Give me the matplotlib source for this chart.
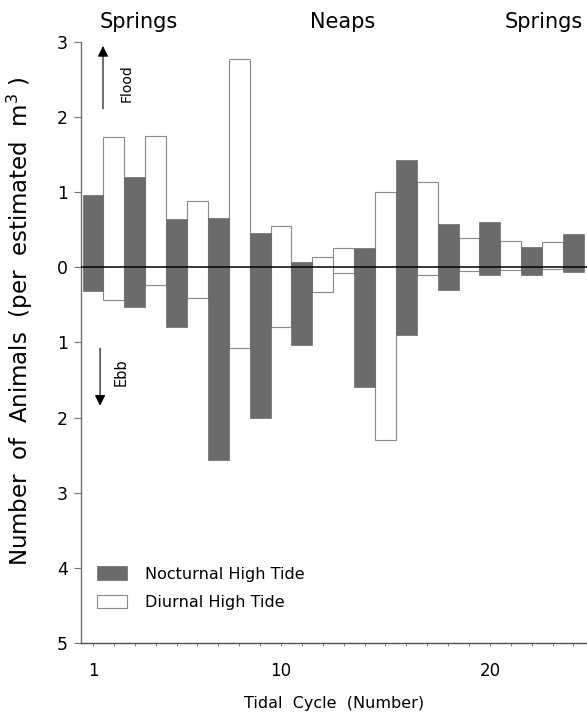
import matplotlib.pyplot as plt
import numpy as np
from matplotlib.ticker import FuncFormatter

# tidal cycle number, N = nocturnal high tide, D = diurnal high tide
cycle = list(range(1, 25))
tide = ["N", "D", "N", "D", "N", "D", "N", "D", "N", "D", "N", "D",
        "D", "N", "D", "N", "D", "N", "D", "N", "D", "N", "D", "N"]
# animals per estimated m3 moving on the flood (up) and ebb (down)
flood = [0.96, 1.73, 1.20, 1.75, 0.64, 0.88, 0.66, 2.77, 0.45, 0.55, 0.07, 0.13,
         0.25, 0.26, 1.00, 1.43, 1.13, 0.58, 0.39, 0.60, 0.35, 0.27, 0.34, 0.44]
ebb = [0.32, 0.44, 0.53, 0.24, 0.79, 0.41, 2.56, 1.08, 2.01, 0.80, 1.03, 0.33,
       0.08, 1.60, 2.30, 0.90, 0.11, 0.30, 0.05, 0.11, 0.04, 0.11, 0.02, 0.06]

phases = ["Springs", "Neaps", "Springs"]
phase_x = [3.2, 12.95, 22.6]

x = np.array(cycle)
up = np.array(flood)
down = np.array(ebb)
noct = np.array([t == "N" for t in tide])
diur = ~noct

fig = plt.figure(figsize=(5.87, 7.13), dpi=100)
ax = fig.add_axes([0.1388, 0.0982, 0.8612, 0.8433])

# diurnal bars first (white with thin grey outline), then nocturnal (dark)
ax.bar(x[diur], up[diur] + down[diur], bottom=-down[diur], width=1.0,
       color="white", edgecolor="#8a8a8a", linewidth=0.8, zorder=2,
       label="Diurnal High Tide")
ax.bar(x[noct], up[noct] + down[noct], bottom=-down[noct], width=1.0,
       color="#6b6b6b", edgecolor="#6b6b6b", linewidth=0.5, zorder=3,
       label="Nocturnal High Tide")
ax.axhline(0, color="black", lw=1.1, zorder=4)

ax.set_xlim(0.45, 24.65)
ax.set_ylim(-5, 3)

ax.spines["top"].set_visible(False)
ax.spines["right"].set_visible(False)
ax.spines["left"].set_color("#707070")
ax.spines["bottom"].set_color("#505050")
ax.spines["left"].set_linewidth(1.0)
ax.spines["bottom"].set_linewidth(1.0)

ax.set_yticks(range(-5, 4))
ax.yaxis.set_major_formatter(FuncFormatter(lambda v, p: "%d" % abs(v)))
ax.tick_params(axis="y", length=4.8, width=0.8, color="#707070", pad=5,
               labelsize=12.5)
ax.set_xticks([1, 10, 20])
ax.set_xticks(cycle, minor=True)
ax.tick_params(axis="x", which="both", length=2.5, width=0.7, color="#808080",
               pad=11, labelsize=12)

ax.set_ylabel("Number  of  Animals  (per  estimated  m$^{3}$ )", fontsize=16.5)
ax.yaxis.set_label_coords(-0.092, 0.535)
ax.set_xlabel("Tidal  Cycle  (Number)", fontsize=11.5)
ax.xaxis.set_label_coords(0.5, -0.088)

# top labels for the spring / neap cycle
for name, px in zip(phases, phase_x):
    ax.text(px, 3.26, name, ha="center", va="center", fontsize=15,
            clip_on=False)

# flood / ebb arrows
ax.annotate("", xy=(1.48, 2.98), xytext=(1.48, 2.07),
            arrowprops=dict(arrowstyle="-|>", color="black", lw=0.8,
                            mutation_scale=16), zorder=5)
ax.text(2.61, 2.45, "Flood", rotation=90, ha="center", va="center", fontsize=10)
ax.annotate("", xy=(1.34, -1.88), xytext=(1.34, -1.04),
            arrowprops=dict(arrowstyle="-|>", color="black", lw=0.8,
                            mutation_scale=16), zorder=5)
ax.text(2.33, -1.40, "Ebb", rotation=90, ha="center", va="center", fontsize=10.5)

handles, labels = ax.get_legend_handles_labels()
ax.legend(handles[::-1], labels[::-1], loc="lower left",
          bbox_to_anchor=(0.03, 0.055), frameon=False, fontsize=11.5,
          handlelength=1.9, handleheight=0.95, handletextpad=1.15,
          labelspacing=0.8, borderpad=0, borderaxespad=0)

plt.savefig("out.png", dpi=100)
